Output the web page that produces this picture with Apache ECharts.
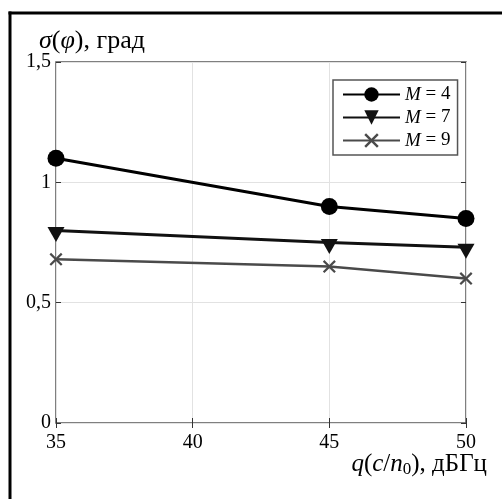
<!DOCTYPE html>
<html><head><meta charset="utf-8">
<script src="https://cdn.jsdelivr.net/npm/echarts@6/dist/echarts.min.js"></script>
<style>html,body{margin:0;padding:0;background:#fff}#c{width:502px;height:499px}</style>
</head><body><div id="c"></div>
<script>
const xValues = [35, 45, 50];
const seriesNames = ['4', '7', '9'];
const m4 = [1.1, 0.9, 0.85];
const m7 = [0.8, 0.75, 0.73];
const m9 = [0.68, 0.65, 0.6];
const xTicks = [35, 40, 45, 50];
const yTickLabels = {'0': '0', '0.5': '0,5', '1': '1', '1.5': '1,5'};

const FONT = 'Liberation Serif';
const chart = echarts.init(document.getElementById('c'));
const pairs = v => xValues.map((x, i) => [x, v[i]]);
const xPath = 'path://M1.2,0 L5,3.8 L8.8,0 L10,1.2 L6.2,5 L10,8.8 L8.8,10 L5,6.2 L1.2,10 L0,8.8 L3.8,5 L0,1.2Z';
const triPath = 'path://M0,0 L10,0 L5,8.5Z';

chart.setOption({
  animation: false,
  grid: {left: 56, right: 36, top: 62, bottom: 76, show: true, borderColor: '#555', borderWidth: 1.5, backgroundColor: 'transparent'},
  legend: {
    orient: 'vertical', left: 333, top: 80,
    backgroundColor: '#fff', borderColor: '#555', borderWidth: 1.5,
    padding: [5, 7, 5, 9], itemWidth: 57, itemHeight: 18, itemGap: 4,
    formatter: n => '{i|M} = ' + n,
    textStyle: {fontFamily: FONT, fontSize: 19, color: '#000',
      rich: {i: {fontFamily: FONT, fontStyle: 'italic', fontSize: 19, color: '#000'}}},
    data: seriesNames
  },
  xAxis: [{
    type: 'value', min: 35, max: 50, interval: 5,
    axisLine: {show: false},
    axisTick: {show: true, inside: true, length: 5, lineStyle: {color: '#333'}},
    axisLabel: {fontFamily: FONT, fontSize: 20, color: '#000', margin: 10,
      formatter: v => xTicks.includes(v) ? String(v) : ''},
    splitLine: {show: true, lineStyle: {color: '#e2e2e2', width: 1}}
  }, {
    type: 'value', min: 35, max: 50, interval: 5, position: 'top',
    axisLine: {show: false},
    axisTick: {show: true, inside: true, length: 5, lineStyle: {color: '#333'}},
    axisLabel: {show: false}, splitLine: {show: false}
  }],
  yAxis: [{
    type: 'value', min: 0, max: 1.5, interval: 0.5,
    axisLine: {show: false},
    axisTick: {show: true, inside: true, length: 5, lineStyle: {color: '#333'}},
    axisLabel: {fontFamily: FONT, fontSize: 20, color: '#000', margin: 5,
      formatter: v => yTickLabels[String(v)] || String(v)},
    splitLine: {show: true, lineStyle: {color: '#e2e2e2', width: 1}}
  }, {
    type: 'value', min: 0, max: 1.5, interval: 0.5, position: 'right',
    axisLine: {show: false},
    axisTick: {show: true, inside: true, length: 5, lineStyle: {color: '#333'}},
    axisLabel: {show: false}, splitLine: {show: false}
  }],
  series: [
    {name: '4', type: 'line', data: pairs(m4), symbol: 'circle', symbolSize: 17,
      lineStyle: {color: '#000', width: 3}, itemStyle: {color: '#000'}},
    {name: '7', type: 'line', data: pairs(m7), symbol: triPath, symbolSize: [17, 15], symbolOffset: [0, 4],
      lineStyle: {color: '#111', width: 3}, itemStyle: {color: '#111'}},
    {name: '9', type: 'line', data: pairs(m9), symbol: xPath, symbolSize: 13,
      lineStyle: {color: '#4a4a4a', width: 2.5}, itemStyle: {color: '#4a4a4a'}}
  ],
  graphic: [
    {type: 'rect', shape: {x: 8.5, y: 11.5, width: 3, height: 490}, style: {fill: '#000'}, silent: true},
    {type: 'rect', shape: {x: 8.5, y: 11.5, width: 500, height: 3}, style: {fill: '#000'}, silent: true},
    {type: 'text', left: 39, top: 28, style: {
      text: '{i|σ}({i|φ}), град',
      font: '26px ' + FONT, fill: '#000',
      rich: {i: {fontFamily: FONT, fontStyle: 'italic', fontSize: 26, fill: '#000'}}
    }},
    {type: 'text', right: 15, top: 450, style: {
      text: '{i|q}({i|c}/{i|n}{s|0}), дБГц',
      font: '25px ' + FONT, fill: '#000', lineHeight: 28,
      rich: {i: {fontFamily: FONT, fontStyle: 'italic', fontSize: 25, lineHeight: 28},
             s: {fontFamily: FONT, fontSize: 17, lineHeight: 14, verticalAlign: 'bottom'}}
    }}
  ]
});
</script></body></html>
